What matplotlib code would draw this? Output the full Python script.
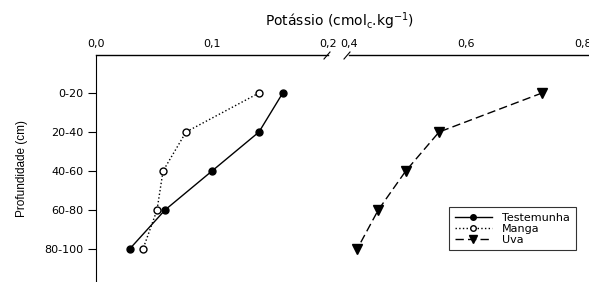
import matplotlib.pyplot as plt
from matplotlib.lines import Line2D
import numpy as np

plt.rcParams['font.family'] = ['DejaVu Sans']

depths = ["0-20", "20-40", "40-60", "60-80", "80-100"]
testemunha = [0.161, 0.1405, 0.100, 0.0595, 0.029]
manga = [0.1405, 0.0776, 0.0578, 0.0526, 0.0405]
uva = [0.730, 0.554, 0.497, 0.450, 0.414]

W, H = 589, 282
fig = plt.figure(figsize=(W / 100, H / 100), dpi=100)
top = 55
ax1 = fig.add_axes([96 / W, 0, (328 - 96) / W, (H - top) / H])
ax2 = fig.add_axes([349 / W, 0, (W - 349) / W, (H - top) / H])

y = np.arange(len(depths))
l1, = ax1.plot(testemunha, y, '-o', color='black', lw=1, ms=5)
l2, = ax1.plot(manga, y, ':o', color='black', mfc='white', lw=1, ms=5)
l3, = ax2.plot(uva, y, '--v', color='black', lw=1, ms=6.5, dashes=(6, 3))

ylo = (top - 93) / 39
yhi = (H - 93) / 39
for ax in (ax1, ax2):
    ax.set_ylim(yhi, ylo)
    ax.xaxis.tick_top()
    ax.spines['bottom'].set_visible(False)
    ax.spines['right'].set_visible(False)
    ax.spines['top'].set_linewidth(1)
    ax.tick_params(axis='x', length=0, pad=4, labelsize=8)
    ax.patch.set_alpha(0)

ax1.set_xlim(0, 0.2)
ax1.set_xticks([0, 0.1, 0.2])
ax1.set_xticklabels(["0,0", "0,1", "0,2"])
ax1.set_yticks(y)
ax1.set_yticklabels(depths)
ax1.tick_params(axis='y', length=6, pad=3, labelsize=8)
ax1.set_ylabel("Profundidade (cm)", fontsize=8.5, family='Liberation Sans', labelpad=12)

ax2.set_xlim(0.4, 0.4 + (W - 349) / 585)
ax2.set_xticks([0.4, 0.6, 0.8])
ax2.set_xticklabels(["0,4", "0,6", "0,8"])
ax2.spines['left'].set_visible(False)
ax2.set_yticks([])

# break marks on the top axis
for x0 in (324, 344):
    fig.add_artist(Line2D([x0 / W, (x0 + 6) / W], [1 - 59 / H, 1 - 52 / H],
                          color='black', lw=0.8))

fig.text(340 / W, 1 - 21 / H, r'Potássio (cmol$_\mathregular{c}$.kg$^\mathregular{-1}$)',
         ha='center', va='center', fontsize=10)

leg = ax2.legend([l1, l2, l3], ["Testemunha", "Manga", "Uva"], loc='upper left',
                 bbox_to_anchor=((449 - 349) / (W - 349), 1 - (207 - top) / (H - top)),
                 fontsize=8, frameon=True, fancybox=False, edgecolor='black',
                 handlelength=3.4, handletextpad=0.9, labelspacing=0.1,
                 borderpad=0.5, borderaxespad=0, markerscale=0.8)
leg.get_frame().set_linewidth(0.8)

fig.savefig("out.png", dpi=100)
